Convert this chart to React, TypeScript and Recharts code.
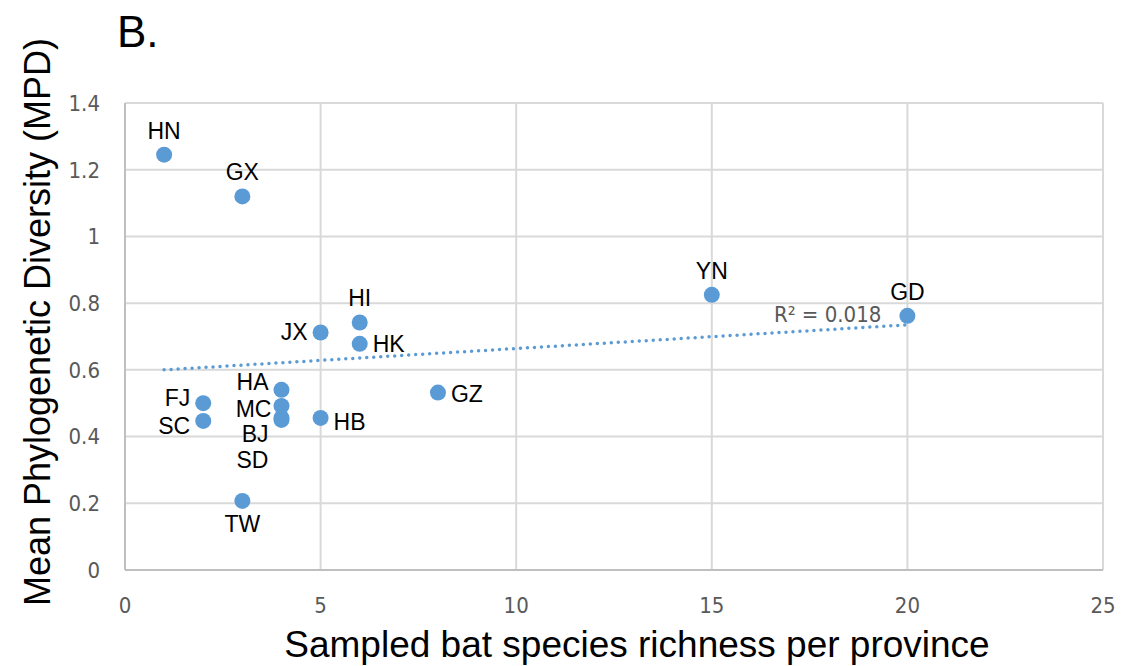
import React from 'react';
import {
  ScatterChart,
  Scatter,
  XAxis,
  YAxis,
  CartesianGrid,
  ReferenceLine,
  ReferenceDot,
} from 'recharts';

// province codes and their values
const provinces = ['HN', 'GX', 'YN', 'GD', 'HI', 'JX', 'HK', 'HA', 'GZ', 'MC', 'BJ', 'SD', 'HB', 'FJ', 'SC', 'TW'];
const richness = [1, 3, 15, 20, 6, 5, 6, 4, 8, 4, 4, 4, 5, 2, 2, 3];
const mpd = [1.245, 1.12, 0.825, 0.762, 0.742, 0.712, 0.678, 0.54, 0.532, 0.492, 0.456, 0.45, 0.456, 0.5, 0.447, 0.207];

// linear trendline endpoints
const trendX = [1, 20];
const trendY = [0.6, 0.735];
const r2Text = 'R² = 0.018';

const xTicks = [0, 5, 10, 15, 20, 25];
const yTicks = [0, 0.2, 0.4, 0.6, 0.8, 1, 1.2, 1.4];

const data = provinces.map((name, i) => ({ name, x: richness[i], y: mpd[i] }));

const BLUE = '#5B9BD5';
const FONT = '"Liberation Sans", Arial, sans-serif';
const TICK_FONT = '"Liberation Sans Narrow", "DejaVu Sans Condensed", "Liberation Sans", sans-serif';

// where each province label sits relative to its dot: [dx, dy(baseline), anchor]
const labelPlacement: Record<string, [number, number, string]> = {
  HN: [0, -16, 'middle'],
  GX: [0, -16, 'middle'],
  YN: [0, -16, 'middle'],
  GD: [0, -16, 'middle'],
  HI: [0, -16, 'middle'],
  JX: [-13, 8, 'end'],
  HK: [13, 8, 'start'],
  HA: [-13, 0, 'end'],
  GZ: [13, 9, 'start'],
  MC: [-10, 11, 'end'],
  BJ: [-13, 24, 'end'],
  SD: [-13, 48, 'end'],
  HB: [13, 12, 'start'],
  FJ: [-13, 3, 'end'],
  SC: [-13, 13, 'end'],
  TW: [0, 31, 'middle'],
};

const renderPoint = (props) => {
  const { cx, cy, payload } = props;
  const [dx, dy, anchor] = labelPlacement[payload.name] || [0, -16, 'middle'];
  return (
    <g>
      <circle cx={cx} cy={cy} r={8} fill={BLUE} />
      <text
        x={cx + dx}
        y={cy + dy}
        textAnchor={anchor}
        fontSize={23}
        fill="#000"
        fontFamily={FONT}
      >
        {payload.name}
      </text>
    </g>
  );
};

const App = () => {
  return (
    <div style={{ position: 'absolute', left: 0, top: 0, width: 1121, height: 666, background: '#fff', fontFamily: FONT }}>
      <svg width={1121} height={666} style={{ position: 'absolute', left: 0, top: 0 }}>
        <text x={117} y={47} fontSize={44} fontFamily={FONT} fill="#000">B.</text>
      </svg>
      <ScatterChart
        width={1121}
        height={666}
        margin={{ top: 103, right: 18, bottom: 36, left: 0 }}
        style={{ position: 'absolute', left: 0, top: 0 }}
      >
        <CartesianGrid stroke="#d9d9d9" strokeWidth={2} />
        <XAxis
          type="number"
          dataKey="x"
          domain={[0, 25]}
          ticks={xTicks}
          height={60}
          tickLine={false}
          tickSize={0}
          tickMargin={27}
          axisLine={{ stroke: '#bfbfbf', strokeWidth: 2 }}
          tick={{ fontSize: 22, fill: '#595959', fontFamily: TICK_FONT }}
          label={{
            content: () => (
              <text x={637} y={657} textAnchor="middle" fontSize={37} fontFamily={FONT} fill="#000">
                Sampled bat species richness per province
              </text>
            ),
          }}
        />
        <YAxis
          type="number"
          dataKey="y"
          domain={[0, 1.4]}
          ticks={yTicks}
          width={125}
          tickLine={false}
          tickSize={0}
          tickMargin={25}
          axisLine={{ stroke: '#bfbfbf', strokeWidth: 2 }}
          tick={{ fontSize: 22, fill: '#595959', fontFamily: TICK_FONT }}
          label={{
            content: () => (
              <text
                transform="translate(50,322) rotate(-90)"
                textAnchor="middle"
                fontSize={36}
                fontFamily={FONT}
                fill="#000"
              >
                Mean Phylogenetic Diversity (MPD)
              </text>
            ),
          }}
        />
        <ReferenceLine
          segment={[
            { x: trendX[0], y: trendY[0] },
            { x: trendX[1], y: trendY[1] },
          ]}
          stroke={BLUE}
          strokeWidth={3.5}
          strokeDasharray="0 7"
          strokeLinecap="round"
          ifOverflow="visible"
        />
        <Scatter data={data} fill={BLUE} shape={renderPoint} isAnimationActive={false} />
        <ReferenceDot
          x={trendX[1]}
          y={trendY[1]}
          r={0}
          fill="none"
          stroke="none"
          ifOverflow="visible"
          label={{
            content: (p) => {
              const vb = p.viewBox || {};
              return (
                <text
                  x={(vb.x || 0) - 26}
                  y={(vb.y || 0) - 3}
                  textAnchor="end"
                  fontSize={22}
                  fontFamily={TICK_FONT}
                  fill="#595959"
                >
                  {r2Text}
                </text>
              );
            },
          }}
        />
      </ScatterChart>
    </div>
  );
};

export default App;
